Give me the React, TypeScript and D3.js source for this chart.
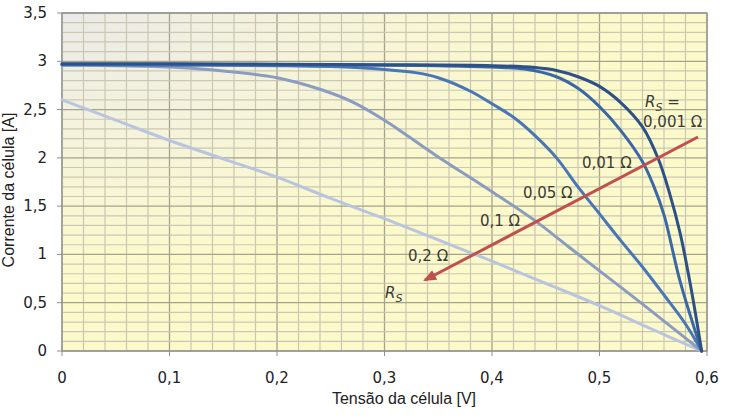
import React from 'react';
import * as d3 from 'd3';

const W = 741;
const H = 418;

const xTicks = [0, 0.1, 0.2, 0.3, 0.4, 0.5, 0.6];
const yTicks = [0, 0.5, 1, 1.5, 2, 2.5, 3, 3.5];
const xTickLabels = ['0', '0,1', '0,2', '0,3', '0,4', '0,5', '0,6'];
const yTickLabels = ['0', '0,5', '1', '1,5', '2', '2,5', '3', '3,5'];

// Rs = 0.001 ohm
const seriesRs0001: [number, number][] = [
  [0, 2.975], [0.1, 2.975], [0.2, 2.97], [0.3, 2.965], [0.4, 2.955], [0.44, 2.935],
  [0.46, 2.905], [0.48, 2.84], [0.5, 2.74], [0.52, 2.57], [0.54, 2.32], [0.555, 1.98],
  [0.565, 1.64], [0.575, 1.22], [0.585, 0.66], [0.595, 0],
];
// Rs = 0.01 ohm
const seriesRs001: [number, number][] = [
  [0, 2.97], [0.1, 2.97], [0.2, 2.965], [0.3, 2.96], [0.35, 2.955], [0.4, 2.94],
  [0.43, 2.92], [0.46, 2.84], [0.48, 2.72], [0.5, 2.53], [0.52, 2.28], [0.54, 1.96],
  [0.55, 1.72], [0.56, 1.41], [0.575, 0.72], [0.595, 0],
];
// Rs = 0.05 ohm
const seriesRs005: [number, number][] = [
  [0, 2.965], [0.1, 2.96], [0.2, 2.955], [0.25, 2.945], [0.3, 2.915], [0.33, 2.88],
  [0.35, 2.83], [0.38, 2.69], [0.4, 2.56], [0.42, 2.42], [0.44, 2.23], [0.46, 2.0],
  [0.48, 1.7], [0.5, 1.42], [0.52, 1.14], [0.54, 0.87], [0.56, 0.58], [0.58, 0.28], [0.595, 0],
];
// Rs = 0.1 ohm
const seriesRs01: [number, number][] = [
  [0, 2.96], [0.05, 2.955], [0.1, 2.94], [0.15, 2.9], [0.2, 2.83],
  [0.24, 2.71], [0.27, 2.58], [0.3, 2.39], [0.32, 2.24], [0.35, 2.01], [0.4, 1.65],
  [0.44, 1.35], [0.47, 1.09], [0.5, 0.83], [0.535, 0.53], [0.56, 0.31], [0.595, 0],
];
// Rs = 0.2 ohm
const seriesRs02: [number, number][] = [
  [0, 2.6], [0.05, 2.39], [0.1, 2.18], [0.15, 1.99], [0.2, 1.8], [0.25, 1.58],
  [0.3, 1.37], [0.35, 1.15], [0.4, 0.93], [0.45, 0.7], [0.5, 0.47], [0.55, 0.22], [0.595, 0],
];

const seriesData = [seriesRs02, seriesRs01, seriesRs005, seriesRs001, seriesRs0001];
const seriesColors = ['#b9c5de', '#8b9cc0', '#4876b6', '#3a68a6', '#2c5189'];

const seriesLabels = ['0,2 Ω', '0,1 Ω', '0,05 Ω', '0,01 Ω', '0,001 Ω'];
const labelAnchors: [number, number][] = [
  [0.3219, 0.932], [0.3888, 1.294], [0.4288, 1.584], [0.4837, 1.895], [0.5405, 2.32],
];
const rsEqAnchor: [number, number] = [0.5423, 2.527];
const rsAnchor: [number, number] = [0.3005, 0.549];
const arrowFrom: [number, number] = [0.5916, 2.216];
const arrowTo: [number, number] = [0.3377, 0.735];

const margin = { left: 62, right: 741 - 707, top: 13, bottom: 418 - 351 };

export default function App() {
  const x = d3.scaleLinear().domain([0, 0.6]).range([margin.left, W - margin.right]);
  const y = d3.scaleLinear().domain([0, 3.5]).range([H - margin.bottom, margin.top]);
  const line = d3
    .line<[number, number]>()
    .x((d) => x(d[0]))
    .y((d) => y(d[1]))
    .curve(d3.curveCatmullRom.alpha(0.5));

  const minorX = d3.range(0, 31).map((i) => i * 0.02);
  const minorY = d3.range(0, 36).map((i) => i * 0.1);
  const x0 = x(0), x1 = x(0.6), y0 = y(0), y1 = y(3.5);
  const tickFont = 'DejaVu Sans, Verdana, sans-serif';

  return (
    <div style={{ position: 'absolute', left: 0, top: 0 }}>
      <svg width={W} height={H} style={{ display: 'block', background: '#fff' }}>
        <defs>
          <radialGradient id="bg" cx="0" cy="0" r="0.8" gradientUnits="objectBoundingBox">
            <stop offset="0" stopColor="#eaeae8" />
            <stop offset="0.45" stopColor="#f5f3dc" />
            <stop offset="1" stopColor="#fcfaca" />
          </radialGradient>
          <marker id="ah" viewBox="0 0 12 10" refX="10" refY="5" markerWidth="4.5" markerHeight="3.6" orient="auto">
            <path d="M0,0 L12,5 L0,10 z" fill="#c0504d" />
          </marker>
        </defs>
        <rect x={x0} y={y1} width={x1 - x0} height={y0 - y1} fill="url(#bg)" />
        {minorX.map((v, i) => (
          <line key={'mx' + i} x1={x(v)} x2={x(v)} y1={y1} y2={y0}
            stroke={i % 5 === 0 ? '#a5a290' : '#cbc7b2'} strokeWidth={i % 5 === 0 ? 1.3 : 1.2} />
        ))}
        {minorY.map((v, i) => (
          <line key={'my' + i} x1={x0} x2={x1} y1={y(v)} y2={y(v)}
            stroke={i % 5 === 0 ? '#a5a290' : '#cbc7b2'} strokeWidth={i % 5 === 0 ? 1.3 : 1.2} />
        ))}
        <rect x={x0} y={y1} width={x1 - x0} height={y0 - y1} fill="none" stroke="#8f8f8f" strokeWidth={1.2} />
        {yTicks.map((v, i) => (
          <g key={'yt' + i}>
            <line x1={x0 - 5} x2={x0} y1={y(v)} y2={y(v)} stroke="#8f8f8f" />
            <text x={47} y={y(v) + 5} textAnchor="end" fontFamily={tickFont} fontSize={15} fill="#222">
              {yTickLabels[i]}
            </text>
          </g>
        ))}
        {xTicks.map((v, i) => (
          <g key={'xt' + i}>
            <line x1={x(v)} x2={x(v)} y1={y0} y2={y0 + 5} stroke="#8f8f8f" />
            <text x={x(v)} y={383} textAnchor="middle" fontFamily={tickFont} fontSize={15} fill="#222">
              {xTickLabels[i]}
            </text>
          </g>
        ))}
        <text x={404} y={404} textAnchor="middle" fontFamily="Liberation Sans, Arial, sans-serif" fontSize={16} fill="#222">
          Tensão da célula [V]
        </text>
        <text transform={`translate(14,${(y0 + y1) / 2 + 8}) rotate(-90)`} textAnchor="middle"
          fontFamily="Liberation Sans, Arial, sans-serif" fontSize={16} fill="#222">
          Corrente da célula [A]
        </text>
        {seriesData.map((s, i) => (
          <path key={'s' + i} d={line(s) || ''} fill="none" stroke={seriesColors[i]} strokeWidth={3}
            strokeLinejoin="round" strokeLinecap="round" />
        ))}
        <line x1={x(arrowFrom[0])} y1={y(arrowFrom[1])} x2={x(arrowTo[0])} y2={y(arrowTo[1])}
          stroke="#c0504d" strokeWidth={3} markerEnd="url(#ah)" />
        {seriesLabels.map((t, i) => (
          <text key={'l' + i} x={x(labelAnchors[i][0])} y={y(labelAnchors[i][1])}
            fontFamily={tickFont} fontSize={15} fill="#3a3a3a">
            {t}
          </text>
        ))}
        <text x={x(rsEqAnchor[0])} y={y(rsEqAnchor[1])} fontFamily={tickFont} fontSize={15} fill="#3a3a3a">
          <tspan fontStyle="italic">R</tspan>
          <tspan fontStyle="italic" fontSize={11} dy={4}>S</tspan>
          <tspan dy={-4}> =</tspan>
        </text>
        <text x={x(rsAnchor[0])} y={y(rsAnchor[1])} fontFamily={tickFont} fontSize={15} fill="#3a3a3a">
          <tspan fontStyle="italic">R</tspan>
          <tspan fontStyle="italic" fontSize={11} dy={4}>S</tspan>
        </text>
      </svg>
    </div>
  );
}
